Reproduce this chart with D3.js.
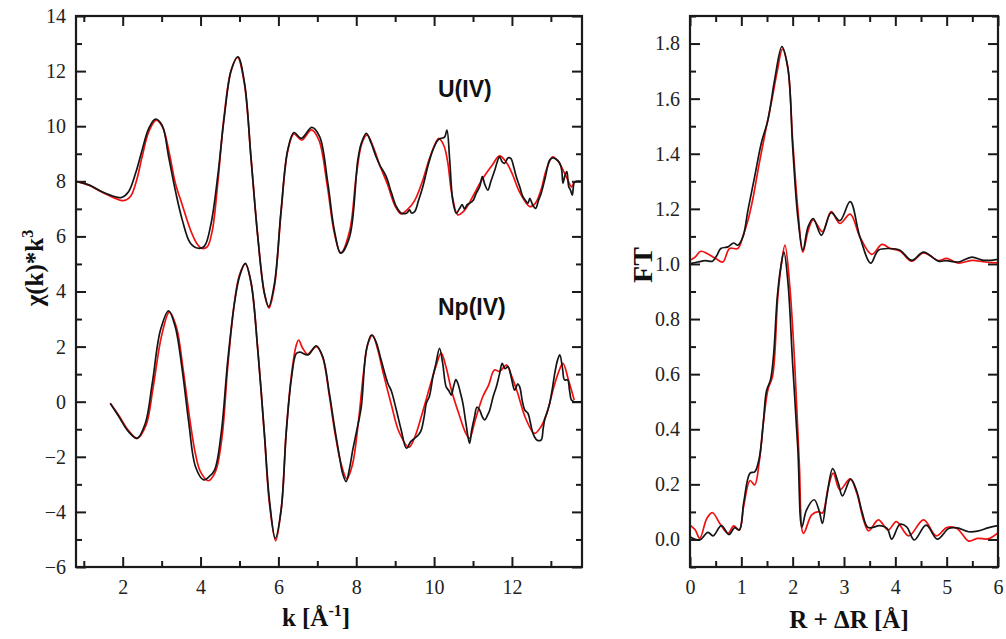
<!DOCTYPE html>
<html>
<head>
<meta charset="utf-8">
<script src="https://cdn.jsdelivr.net/npm/d3@7"></script>
<style>
  html, body { margin: 0; padding: 0; background: #fff; }
  svg { display: block; }
</style>
</head>
<body>
<svg id="chart" width="1006" height="639"></svg>
<script>
// ---------------- DATA ----------------
// Left panel: chi(k)*k^3 vs k  (pairs [k, value])
const uExp = [[0.8,8.0],[1.13,7.87],[1.47,7.62],[1.81,7.44],[1.97,7.41],[2.15,7.62],[2.33,8.29],[2.5,9.14],[2.67,9.92],[2.84,10.26],[3.01,10.04],[3.18,8.89],[3.35,7.68],[3.53,6.6],[3.74,5.75],[3.94,5.57],[4.1,5.65],[4.27,6.47],[4.44,8.17],[4.61,10.34],[4.79,12.04],[4.96,12.52],[5.13,11.56],[5.3,8.77],[5.47,5.99],[5.64,3.93],[5.75,3.45],[5.9,4.3],[6.07,6.96],[6.24,9.14],[6.4,9.77],[6.59,9.56],[6.86,9.96],[7.06,9.62],[7.27,7.93],[7.44,6.2],[7.6,5.39],[7.83,5.99],[8.04,8.77],[8.13,9.38],[8.26,9.74],[8.38,9.4],[8.51,8.89],[8.6,8.6],[8.77,8.17],[8.9,7.6],[9.03,7.08],[9.16,6.84],[9.3,6.85],[9.37,6.96],[9.42,6.85],[9.5,6.9],[9.6,7.3],[9.71,7.8],[9.85,8.6],[9.97,9.14],[10.1,9.5],[10.18,9.56],[10.27,9.6],[10.33,9.86],[10.4,8.8],[10.48,7.3],[10.57,6.84],[10.65,7.0],[10.72,7.15],[10.78,7.0],[10.85,7.15],[10.91,7.2],[11.0,7.3],[11.08,7.56],[11.17,7.8],[11.24,8.17],[11.3,7.9],[11.38,7.68],[11.46,8.0],[11.56,8.41],[11.68,8.89],[11.75,8.7],[11.81,8.65],[11.9,8.85],[11.97,8.83],[12.05,8.5],[12.11,8.17],[12.2,7.8],[12.28,7.44],[12.35,7.3],[12.41,7.2],[12.46,7.38],[12.53,7.15],[12.61,7.02],[12.68,7.3],[12.75,7.56],[12.85,8.1],[12.97,8.77],[13.05,8.85],[13.1,8.83],[13.18,8.75],[13.23,8.65],[13.28,8.4],[13.31,7.93],[13.36,8.2],[13.41,8.35],[13.46,7.8],[13.5,7.7],[13.55,7.5],[13.6,7.95],[13.65,8.0],[13.8,8.0]];
const uFit = [[0.8,8.0],[1.13,7.86],[1.47,7.6],[1.81,7.38],[2.02,7.3],[2.2,7.45],[2.35,8.0],[2.5,8.9],[2.67,9.8],[2.86,10.22],[3.03,9.95],[3.2,9.0],[3.35,7.95],[3.53,7.14],[3.74,6.24],[3.9,5.75],[4.02,5.57],[4.17,5.62],[4.3,6.2],[4.44,7.9],[4.6,10.3],[4.78,12.0],[4.95,12.5],[5.12,11.6],[5.3,8.8],[5.47,6.0],[5.64,3.95],[5.76,3.4],[5.9,4.2],[6.07,6.9],[6.24,9.1],[6.4,9.72],[6.6,9.5],[6.85,9.87],[7.04,9.5],[7.25,7.9],[7.44,6.1],[7.6,5.4],[7.83,6.2],[8.0,8.2],[8.15,9.4],[8.28,9.68],[8.45,9.2],[8.6,8.6],[8.8,7.9],[9.0,7.1],[9.15,6.82],[9.3,6.95],[9.5,7.3],[9.7,8.0],[9.9,8.9],[10.12,9.56],[10.25,9.3],[10.35,8.7],[10.45,7.6],[10.61,6.78],[10.75,6.9],[10.9,7.2],[11.05,7.6],[11.25,8.1],[11.5,8.6],[11.68,8.92],[11.85,8.7],[12.0,8.3],[12.2,7.6],[12.46,7.08],[12.6,7.2],[12.75,7.7],[12.88,8.4],[13.05,8.89],[13.2,8.7],[13.35,8.3],[13.45,8.0],[13.53,7.8],[13.6,8.0]];
const npExp = [[1.68,-0.06],[1.9,-0.54],[2.15,-1.09],[2.37,-1.33],[2.58,-0.79],[2.76,0.67],[2.97,2.6],[3.18,3.3],[3.35,2.72],[3.53,1.15],[3.7,-0.79],[3.87,-2.36],[4.08,-2.84],[4.2,-2.75],[4.36,-2.48],[4.53,-1.15],[4.7,1.51],[4.87,3.57],[5.0,4.54],[5.15,5.02],[5.3,4.3],[5.47,1.88],[5.64,-1.15],[5.77,-3.57],[5.92,-4.96],[6.07,-3.93],[6.2,-1.15],[6.33,0.79],[6.46,1.75],[6.55,1.8],[6.76,1.7],[6.97,2.03],[7.14,1.63],[7.31,0.3],[7.44,-0.9],[7.57,-2.0],[7.65,-2.6],[7.74,-2.9],[7.83,-2.4],[7.91,-1.75],[8.02,-1.0],[8.13,-0.18],[8.26,1.88],[8.39,2.42],[8.5,2.2],[8.64,1.51],[8.81,0.67],[8.9,0.4],[9.03,-0.3],[9.15,-1.0],[9.29,-1.69],[9.4,-1.45],[9.5,-1.33],[9.6,-1.2],[9.67,-1.03],[9.75,-0.5],[9.8,-0.06],[9.88,0.2],[9.97,0.91],[10.05,1.4],[10.14,1.94],[10.22,1.4],[10.31,0.54],[10.38,0.4],[10.44,0.24],[10.5,0.55],[10.56,0.8],[10.61,0.67],[10.68,0.3],[10.74,-0.06],[10.82,-0.8],[10.91,-1.51],[10.97,-1.0],[11.04,-0.54],[11.1,-0.2],[11.17,-0.3],[11.24,-0.55],[11.3,-0.66],[11.37,-0.5],[11.43,-0.3],[11.52,0.2],[11.6,0.54],[11.68,1.0],[11.75,1.39],[11.82,1.2],[11.9,1.27],[11.98,0.9],[12.07,0.42],[12.15,0.65],[12.2,0.54],[12.27,0.0],[12.33,-0.3],[12.41,-0.42],[12.48,-0.8],[12.54,-1.15],[12.64,-1.39],[12.75,-1.39],[12.8,-1.0],[12.84,-0.66],[12.9,-0.4],[12.97,-0.06],[13.03,0.4],[13.1,1.03],[13.17,1.5],[13.23,1.7],[13.3,1.2],[13.35,0.79],[13.43,0.79],[13.48,0.4],[13.53,0.06],[13.6,0.0],[13.8,0.0]];
const npFit = [[1.68,-0.06],[1.9,-0.5],[2.15,-1.05],[2.37,-1.33],[2.6,-0.85],[2.78,0.5],[3.0,2.4],[3.2,3.25],[3.38,2.7],[3.55,1.2],[3.72,-0.6],[3.87,-1.9],[4.0,-2.55],[4.2,-2.87],[4.38,-2.55],[4.55,-1.3],[4.7,1.3],[4.87,3.6],[5.0,4.6],[5.15,5.0],[5.3,4.3],[5.47,1.9],[5.64,-1.2],[5.77,-3.7],[5.93,-5.05],[6.08,-3.8],[6.2,-1.1],[6.33,0.9],[6.45,2.0],[6.52,2.24],[6.62,1.95],[6.75,1.72],[6.85,1.85],[6.98,2.0],[7.14,1.6],[7.31,0.2],[7.45,-1.1],[7.6,-2.2],[7.76,-2.8],[7.9,-2.3],[8.05,-0.8],[8.2,1.2],[8.3,2.1],[8.42,2.42],[8.55,1.9],[8.7,1.0],[8.9,-0.1],[9.1,-1.1],[9.35,-1.65],[9.5,-1.3],[9.7,-0.4],[9.9,0.6],[10.05,1.3],[10.18,1.76],[10.3,1.3],[10.45,0.4],[10.65,-0.5],[10.8,-1.1],[10.91,-1.33],[11.05,-0.7],[11.25,0.18],[11.4,0.6],[11.55,1.15],[11.68,1.1],[11.86,1.33],[12.0,0.9],[12.15,0.3],[12.35,-0.6],[12.58,-1.15],[12.75,-0.9],[12.9,-0.4],[13.05,0.4],[13.18,1.0],[13.31,1.39],[13.45,0.8],[13.6,0.06]];

// Right panel: FT magnitude vs R + dR  (pairs [R, value])
const ftUExp = [[0,1.001],[0.15,1.007],[0.3,1.012],[0.44,1.01],[0.52,1.03],[0.6,1.056],[0.74,1.062],[0.85,1.076],[0.93,1.068],[1.03,1.098],[1.13,1.196],[1.26,1.317],[1.39,1.439],[1.52,1.524],[1.65,1.67],[1.79,1.789],[1.91,1.706],[2.0,1.426],[2.1,1.171],[2.2,1.05],[2.3,1.135],[2.4,1.165],[2.56,1.104],[2.75,1.186],[2.92,1.157],[3.12,1.226],[3.31,1.098],[3.52,1.003],[3.67,1.05],[3.9,1.056],[4.09,1.05],[4.32,1.013],[4.55,1.043],[4.84,1.01],[4.99,1.012],[5.23,1.007],[5.49,1.025],[5.72,1.013],[6.0,1.017]];
const ftUFit = [[0,1.013],[0.1,1.025],[0.21,1.046],[0.34,1.037],[0.5,1.02],[0.64,1.007],[0.77,1.056],[0.93,1.056],[1.03,1.1],[1.13,1.159],[1.22,1.232],[1.35,1.366],[1.48,1.49],[1.61,1.61],[1.7,1.7],[1.8,1.78],[1.9,1.72],[2.0,1.45],[2.1,1.2],[2.2,1.043],[2.3,1.12],[2.4,1.16],[2.58,1.117],[2.75,1.19],[2.92,1.147],[3.12,1.181],[3.31,1.098],[3.54,1.035],[3.74,1.071],[3.9,1.056],[4.09,1.047],[4.32,1.01],[4.55,1.04],[4.84,1.012],[5.0,1.02],[5.23,1.003],[5.49,1.013],[5.75,1.007],[6.0,1.004]];
const ftNpExp = [[0,0.01],[0.19,-0.002],[0.35,0.026],[0.45,0.013],[0.61,0.05],[0.76,0.018],[0.87,0.043],[0.96,0.034],[1.05,0.138],[1.17,0.241],[1.26,0.245],[1.35,0.296],[1.43,0.429],[1.49,0.539],[1.57,0.581],[1.63,0.673],[1.7,0.879],[1.77,0.99],[1.83,1.043],[1.91,0.928],[2.0,0.636],[2.1,0.332],[2.18,0.045],[2.27,0.107],[2.42,0.144],[2.52,0.101],[2.58,0.058],[2.66,0.15],[2.78,0.257],[2.89,0.204],[2.97,0.158],[3.13,0.219],[3.25,0.174],[3.35,0.101],[3.47,0.043],[3.7,0.05],[3.84,0.04],[3.93,0.001],[4.09,0.055],[4.22,0.046],[4.37,-0.002],[4.6,0.052],[4.82,0.001],[5.04,0.04],[5.2,0.042],[5.43,0.028],[5.6,0.03],[5.82,0.043],[6.0,0.05]];
const ftNpFit = [[0,0.052],[0.1,0.035],[0.19,0.004],[0.33,0.077],[0.44,0.097],[0.58,0.058],[0.74,0.022],[0.85,0.049],[0.96,0.034],[1.05,0.126],[1.17,0.214],[1.26,0.198],[1.35,0.283],[1.44,0.441],[1.52,0.545],[1.61,0.594],[1.71,0.879],[1.78,1.0],[1.85,1.068],[1.94,0.928],[2.04,0.636],[2.13,0.271],[2.21,0.022],[2.37,0.089],[2.5,0.101],[2.58,0.096],[2.69,0.186],[2.79,0.241],[2.92,0.18],[3.12,0.22],[3.25,0.168],[3.38,0.071],[3.48,0.031],[3.67,0.071],[3.86,0.034],[4.02,0.065],[4.26,0.013],[4.55,0.071],[4.8,0.013],[5.0,0.043],[5.2,0.04],[5.43,-0.006],[5.6,0.004],[5.8,0.002],[6.0,0.024]];

// Ticks and labels
const kMajorTicks = [2, 4, 6, 8, 10, 12];
const kMinorTicks = [1, 3, 5, 7, 9, 11, 13];
const chiMajorTicks = [-6, -4, -2, 0, 2, 4, 6, 8, 10, 12, 14];
const chiMinorTicks = [-5, -3, -1, 1, 3, 5, 7, 9, 11, 13];
const rMajorTicks = [0, 1, 2, 3, 4, 5, 6];
const rMinorTicks = [0.5, 1.5, 2.5, 3.5, 4.5, 5.5];
const ftMajorTicks = [0.0, 0.2, 0.4, 0.6, 0.8, 1.0, 1.2, 1.4, 1.6, 1.8];
const ftMinorTicks = [-0.1, 0.1, 0.3, 0.5, 0.7, 0.9, 1.1, 1.3, 1.5, 1.7, 1.9];
const sampleLabels = ["U(IV)", "Np(IV)"];

// ---------------- DRAW ----------------
const svg = d3.select("#chart");
svg.append("rect").attr("width", 1006).attr("height", 639).attr("fill", "#fff");

const SERIF = "Liberation Serif";
const SANS = "Liberation Sans";
const FRAME = "#1a1a1a";
const RED = "#f01010";
const BLACK = "#151515";

function panel(cfg) {
  const {x0, x1, y0, y1, xDom, yDom, xMaj, xMin, yMaj, yMin, xFmt, yFmt} = cfg;
  const x = d3.scaleLinear().domain(xDom).range([x0, x1]);
  const y = d3.scaleLinear().domain(yDom).range([y1, y0]);
  const g = svg.append("g");
  const H = y1 - y0, W = x1 - x0;

  function styleAxis(sel, showText) {
    sel.attr("font-family", SERIF).attr("font-size", 20);
    sel.select(".domain").remove();
    sel.selectAll(".tick line").attr("stroke", FRAME).attr("stroke-width", 2);
    sel.selectAll(".tick text").attr("fill", "#222").attr("font-family", SERIF).attr("font-size", 20);
    if (!showText) sel.selectAll(".tick text").remove();
  }
  // bottom
  g.append("g").attr("transform", `translate(0,${y1})`)
    .call(d3.axisBottom(x).tickValues(xMaj).tickSize(-10).tickPadding(13).tickFormat(xFmt))
    .call(s => styleAxis(s, true));
  g.append("g").attr("transform", `translate(0,${y1})`)
    .call(d3.axisBottom(x).tickValues(xMin).tickSize(-6).tickFormat(""))
    .call(s => styleAxis(s, false));
  // top
  g.append("g").attr("transform", `translate(0,${y0})`)
    .call(d3.axisTop(x).tickValues(xMaj).tickSize(-10).tickFormat(""))
    .call(s => styleAxis(s, false));
  g.append("g").attr("transform", `translate(0,${y0})`)
    .call(d3.axisTop(x).tickValues(xMin).tickSize(-6).tickFormat(""))
    .call(s => styleAxis(s, false));
  // left
  g.append("g").attr("transform", `translate(${x0},0)`)
    .call(d3.axisLeft(y).tickValues(yMaj).tickSize(-10).tickPadding(10).tickFormat(yFmt))
    .call(s => styleAxis(s, true));
  g.append("g").attr("transform", `translate(${x0},0)`)
    .call(d3.axisLeft(y).tickValues(yMin).tickSize(-6).tickFormat(""))
    .call(s => styleAxis(s, false));
  // right
  g.append("g").attr("transform", `translate(${x1},0)`)
    .call(d3.axisRight(y).tickValues(yMaj).tickSize(-10).tickFormat(""))
    .call(s => styleAxis(s, false));
  g.append("g").attr("transform", `translate(${x1},0)`)
    .call(d3.axisRight(y).tickValues(yMin).tickSize(-6).tickFormat(""))
    .call(s => styleAxis(s, false));

  const clipId = "clip" + Math.round(x0);
  svg.append("clipPath").attr("id", clipId).append("rect")
    .attr("x", x0).attr("y", y0).attr("width", W).attr("height", H);
  const lines = g.append("g").attr("clip-path", `url(#${clipId})`);
  const line = d3.line().x(d => x(d[0])).y(d => y(d[1])).curve(d3.curveCatmullRom.alpha(0.5));
  cfg.series.forEach(s => {
    lines.append("path").datum(s.data).attr("d", line)
      .attr("fill", "none").attr("stroke", s.color).attr("stroke-width", 1.7)
      .attr("stroke-linejoin", "round");
  });
  // frame
  g.append("rect").attr("x", x0).attr("y", y0).attr("width", W).attr("height", H)
    .attr("fill", "none").attr("stroke", FRAME).attr("stroke-width", 2.2);
  return {x, y, g};
}

const left = panel({
  x0: 76, x1: 582, y0: 16, y1: 567,
  xDom: [0.8, 13.8], yDom: [-6, 14],
  xMaj: kMajorTicks, xMin: kMinorTicks, yMaj: chiMajorTicks, yMin: chiMinorTicks,
  xFmt: d3.format("d"), yFmt: d3.format("d"),
  series: [
    {data: uFit, color: RED}, {data: npFit, color: RED},
    {data: uExp, color: BLACK}, {data: npExp, color: BLACK}
  ]
});

const right = panel({
  x0: 690, x1: 998, y0: 16, y1: 567,
  xDom: [0, 6], yDom: [-0.1, 1.9],
  xMaj: rMajorTicks, xMin: rMinorTicks, yMaj: ftMajorTicks, yMin: ftMinorTicks,
  xFmt: d3.format("d"), yFmt: d3.format(".1f"),
  series: [
    {data: ftUFit, color: RED}, {data: ftNpFit, color: RED},
    {data: ftUExp, color: BLACK}, {data: ftNpExp, color: BLACK}
  ]
});

// Sample labels (positioned in data coords of the left panel)
const labelPos = [[10.1, 11.05], [10.1, 3.15]];
sampleLabels.forEach((t, i) => {
  left.g.append("text")
    .attr("x", left.x(labelPos[i][0])).attr("y", left.y(labelPos[i][1]))
    .attr("font-family", SANS).attr("font-weight", "bold").attr("font-size", 23)
    .attr("fill", "#111").text(t);
});

// Axis titles
const t1 = svg.append("text").attr("x", 316).attr("y", 626).attr("text-anchor", "middle")
  .attr("font-family", SERIF).attr("font-weight", "bold").attr("font-size", 25).attr("fill", "#111");
t1.append("tspan").text("k [Å");
t1.append("tspan").text("-1").attr("font-size", 16).attr("dy", -10);
t1.append("tspan").text("]").attr("dy", 10);

const t2 = svg.append("text").attr("transform", "translate(43,268) rotate(-90)").attr("text-anchor", "middle")
  .attr("font-family", SERIF).attr("font-weight", "bold").attr("font-size", 25).attr("fill", "#111");
t2.append("tspan").text("χ(k)*k");
t2.append("tspan").text("3").attr("font-size", 16).attr("dy", -10);

svg.append("text").attr("transform", "translate(652,265) rotate(-90)").attr("text-anchor", "middle")
  .attr("font-family", SERIF).attr("font-weight", "bold").attr("font-size", 28).attr("fill", "#111")
  .text("FT");

svg.append("text").attr("x", 849).attr("y", 628).attr("text-anchor", "middle")
  .attr("font-family", SERIF).attr("font-weight", "bold").attr("font-size", 25).attr("fill", "#111")
  .text("R + ΔR [Å]");
</script>
</body>
</html>
